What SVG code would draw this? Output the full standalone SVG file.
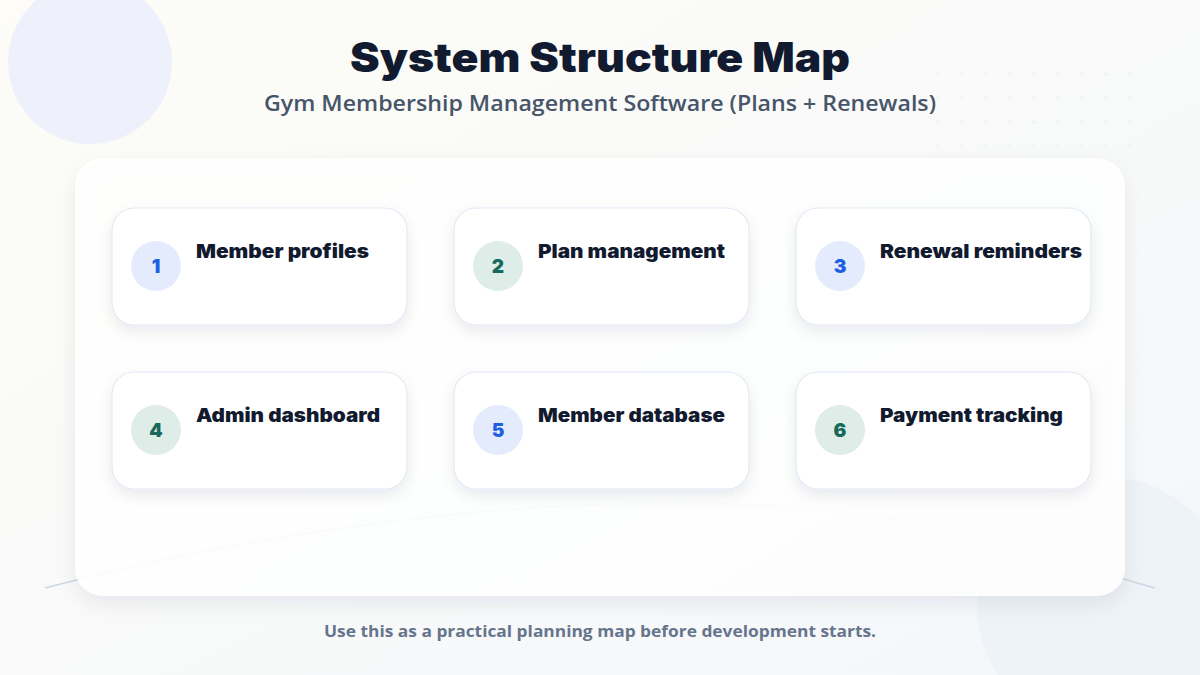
<svg xmlns="http://www.w3.org/2000/svg" width="1200" height="675" viewBox="0 0 1200 675">
<defs>
<linearGradient id="bg" x1="0" y1="0" x2="1" y2="1"><stop offset="0" stop-color="#fdfcf7"/><stop offset="1" stop-color="#f4f7fb"/></linearGradient>
<filter id="sh" x="-10%" y="-10%" width="120%" height="130%"><feDropShadow dx="0" dy="8" stdDeviation="10" flood-color="#1e2a4a" flood-opacity="0.08"/></filter>
<filter id="csh" x="-10%" y="-10%" width="120%" height="140%"><feDropShadow dx="0" dy="6" stdDeviation="7" flood-color="#1e2a4a" flood-opacity="0.08"/></filter>
<pattern id="dots" width="24" height="24" patternUnits="userSpaceOnUse"><circle cx="2" cy="2" r="1" fill="#e6ebf2"/></pattern>
</defs>
<style>
.card{fill:#fff;stroke:#e1e8f5;stroke-width:1.2;filter:url(#csh)}
.t{font-family:Inter,"Noto Sans",sans-serif;font-weight:900;font-size:19px;fill:#111a2e}
.n{font-family:Inter,"Noto Sans",sans-serif;font-weight:900;font-size:19px;text-anchor:middle}
.cb{fill:#e3ebfd}.ct{fill:#deede8}
.nb{fill:#1d5fe0}.nt{fill:#17695c}
</style>
<rect width="1200" height="675" fill="url(#bg)"/>
<circle cx="90" cy="62" r="82" fill="#eef1fb"/>
<circle cx="1105" cy="605" r="128" fill="#eef3f7"/>
<rect x="935" y="70" width="200" height="80" fill="url(#dots)"/>
<path d="M45 588 C300 520 600 490 800 508 S1050 560 1155 588" fill="none" stroke="#cbd7ea" stroke-width="1.5"/>
<rect x="75" y="158" width="1050" height="438" rx="28" fill="#fff" fill-opacity="0.9" filter="url(#sh)"/>
<text x="600" y="72" text-anchor="middle" font-family="Inter,'Noto Sans',sans-serif" font-weight="900" font-size="41" fill="#111a2e" textLength="500" lengthAdjust="spacingAndGlyphs">System Structure Map</text>
<text x="600" y="111" text-anchor="middle" font-family="'Open Sans','Noto Sans',sans-serif" font-weight="600" font-size="21" fill="#475569" textLength="672" lengthAdjust="spacingAndGlyphs">Gym Membership Management Software (Plans + Renewals)</text>
<g id="node1"><rect class="card" x="112" y="208" width="295" height="117" rx="22"/><circle class="cb" cx="156" cy="266" r="25"/><text class="n nb" x="156" y="273">1</text><text class="t" x="196" y="258" textLength="173" lengthAdjust="spacingAndGlyphs">Member profiles</text></g>
<g id="node2"><rect class="card" x="454" y="208" width="295" height="117" rx="22"/><circle class="ct" cx="498" cy="266" r="25"/><text class="n nt" x="498" y="273">2</text><text class="t" x="538" y="258" textLength="187" lengthAdjust="spacingAndGlyphs">Plan management</text></g>
<g id="node3"><rect class="card" x="796" y="208" width="295" height="117" rx="22"/><circle class="cb" cx="840" cy="266" r="25"/><text class="n nb" x="840" y="273">3</text><text class="t" x="880" y="258" textLength="202" lengthAdjust="spacingAndGlyphs">Renewal reminders</text></g>
<g id="node4"><rect class="card" x="112" y="372" width="295" height="117" rx="22"/><circle class="ct" cx="156" cy="430" r="25"/><text class="n nt" x="156" y="437">4</text><text class="t" x="196" y="422" textLength="184" lengthAdjust="spacingAndGlyphs">Admin dashboard</text></g>
<g id="node5"><rect class="card" x="454" y="372" width="295" height="117" rx="22"/><circle class="cb" cx="498" cy="430" r="25"/><text class="n nb" x="498" y="437">5</text><text class="t" x="538" y="422" textLength="187" lengthAdjust="spacingAndGlyphs">Member database</text></g>
<g id="node6"><rect class="card" x="796" y="372" width="295" height="117" rx="22"/><circle class="ct" cx="840" cy="430" r="25"/><text class="n nt" x="840" y="437">6</text><text class="t" x="880" y="422" textLength="183" lengthAdjust="spacingAndGlyphs">Payment tracking</text></g>
<g id="connectors"></g>
<text x="600" y="637" text-anchor="middle" font-family="'Open Sans','Noto Sans',sans-serif" font-weight="700" font-size="16" fill="#66758c" textLength="552" lengthAdjust="spacingAndGlyphs">Use this as a practical planning map before development starts.</text>
</svg>
